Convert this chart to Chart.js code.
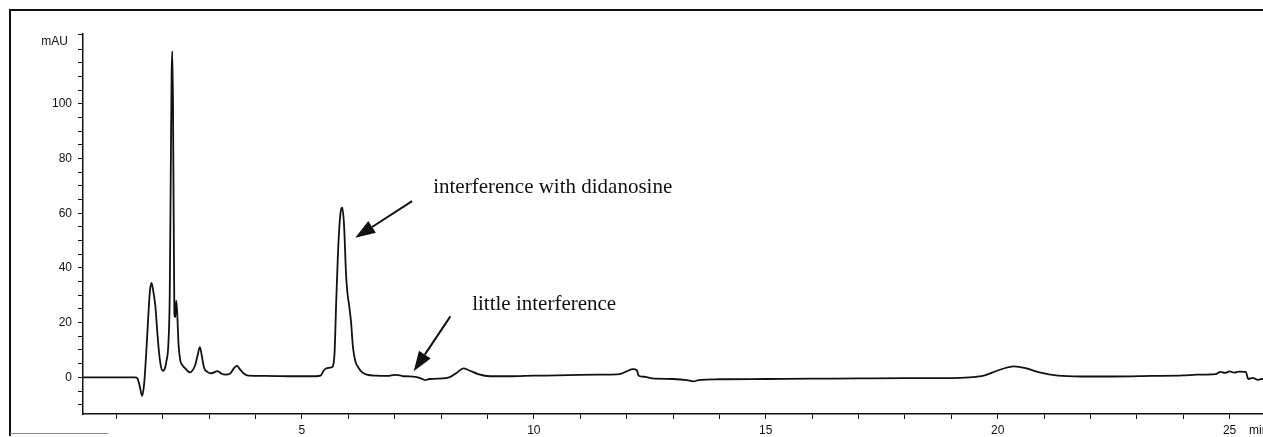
<!DOCTYPE html>
<html>
<head>
<meta charset="utf-8">
<script src="https://cdn.jsdelivr.net/npm/chart.js@4/dist/chart.umd.min.js"></script>
<style>
  html, body { margin: 0; padding: 0; background: #fff; }
  #wrap { position: relative; width: 1263px; height: 437px; overflow: hidden; }
  #frame { position: absolute; left: 9px; top: 9px; width: 1300px; height: 425px;
           border-top: 2px solid #111; border-left: 2px solid #111; }
  #foot { position: absolute; left: 10px; top: 433px; width: 98px; height: 0;
          border-top: 1px solid #888; }
  canvas { position: absolute; left: 0; top: 0; }
</style>
</head>
<body>
<div id="wrap">
  <div id="frame"></div>
  <div id="foot"></div>
  <canvas id="myChart" width="1263" height="437"></canvas>
</div>
<script>
// retention time (min) and absorbance (mAU)
const times = [
  0.28, 1.0, 1.40, 1.45, 1.50, 1.556, 1.60, 1.64, 1.68, 1.72, 1.756, 1.79, 1.84, 1.88, 1.92, 1.96,
  2.00, 2.04, 2.08, 2.12, 2.15, 2.17, 2.19, 2.205, 2.22, 2.235, 2.25, 2.27, 2.29, 2.31, 2.34, 2.38,
  2.42, 2.50, 2.58, 2.64, 2.70, 2.75, 2.80, 2.85, 2.89, 2.96, 3.05, 3.18, 3.27, 3.35, 3.45, 3.54,
  3.60, 3.66, 3.74, 3.85, 4.2, 4.8, 5.30, 5.40, 5.47, 5.54, 5.64, 5.70, 5.74, 5.79, 5.84, 5.87,
  5.91, 5.95, 5.98, 6.02, 6.06, 6.10, 6.15, 6.22, 6.30, 6.40, 6.60, 6.85, 7.0, 7.08, 7.2, 7.45,
  7.6, 7.66, 7.75, 7.9, 8.2, 8.35, 8.48, 8.6, 8.8, 9.06, 9.5, 10, 10.5, 11, 11.5, 11.85,
  12.0, 12.14, 12.22, 12.26, 12.4, 12.55, 13.0, 13.3, 13.44, 13.55, 14, 15, 16, 17, 18, 19.0,
  19.4, 19.7, 20.0, 20.35, 20.6, 20.9, 21.3, 21.8, 22.5, 23.3, 24.0, 24.3, 24.7, 24.8, 24.9, 25.0,
  25.1, 25.2, 25.35, 25.4, 25.5, 25.6, 25.72
];
const mAU = [
  0, 0, 0, -0.3, -3, -6.8, -2, 8, 20, 31, 34.5, 32, 26, 17, 9, 4,
  2.4, 3, 6, 12, 30, 70, 110, 119.2, 100, 60, 23, 22, 28, 24, 12, 6,
  4.5, 3, 1.8, 2.5, 4.5, 8, 11, 7, 3.5, 2, 1.5, 2.3, 1.3, 1, 1.3, 3.5,
  4.2, 3, 1.5, 0.6, 0.5, 0.4, 0.4, 0.6, 2.5, 3.4, 3.6, 8, 28, 50, 61, 62,
  55, 38, 31, 26, 20, 11, 6, 3.5, 1.8, 1, 0.6, 0.5, 0.9, 0.8, 0.4, 0.2,
  -0.6, -1, -0.6, -0.5, 0.2, 1.8, 3.3, 2.6, 1.2, 0.4, 0.4, 0.6, 0.7, 0.9, 1.0, 1.2,
  2.2, 3.0, 2.6, 0.6, 0.2, -0.4, -0.6, -1.0, -1.5, -1.0, -0.7, -0.6, -0.5, -0.4, -0.3, -0.3,
  0, 0.6, 2.5, 4.0, 3.4, 1.8, 0.6, 0.3, 0.3, 0.5, 0.7, 1.0, 1.2, 2, 1.6, 2.2,
  1.7, 2.1, 2.0, -0.6, -0.2, -0.9, -0.5
];

const xTicks = [1,2,3,4,5,6,7,8,9,10,11,12,13,14,15,16,17,18,19,20,21,22,23,24,25];
const xLabels = [5, 10, 15, 20, 25];
const yTicks = [-10,-5,0,5,10,15,20,25,30,35,40,45,50,55,60,65,70,75,80,85,90,95,100,105,110,115,120];
const yLabels = [0, 20, 40, 60, 80, 100];

const notes = [
  { text: 'interference with didanosine', x: 7.83, y: 67.4 },
  { text: 'little interference', x: 8.67, y: 24.75 }
];
const arrows = [
  { from: [7.375, 64.4], to: [6.15, 51] },
  { from: [8.2, 22.3], to: [7.41, 2.2] }
];

const points = times.map((t, i) => ({ x: t, y: mAU[i] }));

const extras = {
  id: 'extras',
  afterDraw(chart) {
    const c = chart.ctx, xs = chart.scales.x, ys = chart.scales.y, area = chart.chartArea;
    c.save();
    c.fillStyle = '#111';
    c.font = '12px "Liberation Sans", Arial, sans-serif';
    c.textBaseline = 'middle';
    c.textAlign = 'right';
    c.fillText('mAU', area.left - 15, area.top + 8);
    c.textAlign = 'left';
    c.fillText('min', 1249, 431);

    c.font = '21px "Liberation Serif", "Times New Roman", serif';
    c.textBaseline = 'alphabetic';
    notes.forEach(n => c.fillText(n.text, xs.getPixelForValue(n.x), ys.getPixelForValue(n.y)));

    c.strokeStyle = '#111';
    c.lineWidth = 2;
    arrows.forEach(a => {
      const x1 = xs.getPixelForValue(a.from[0]), y1 = ys.getPixelForValue(a.from[1]);
      const x2 = xs.getPixelForValue(a.to[0]), y2 = ys.getPixelForValue(a.to[1]);
      const ang = Math.atan2(y2 - y1, x2 - x1);
      const hl = 20, hw = 7;
      const bx = x2 - hl * Math.cos(ang), by = y2 - hl * Math.sin(ang);
      c.beginPath();
      c.moveTo(x1, y1);
      c.lineTo(bx, by);
      c.stroke();
      c.beginPath();
      c.moveTo(x2, y2);
      c.lineTo(bx + hw * Math.sin(ang), by - hw * Math.cos(ang));
      c.lineTo(bx - hw * Math.sin(ang), by + hw * Math.cos(ang));
      c.closePath();
      c.fill();
    });
    c.restore();
  }
};

const ctx = document.getElementById('myChart').getContext('2d');
const myChart = new Chart(ctx, {
  type: 'line',
  data: {
    datasets: [{
      label: 'mAU',
      data: points,
      borderColor: '#111',
      borderWidth: 1.8,
      pointRadius: 0,
      cubicInterpolationMode: 'monotone',
      fill: false
    }]
  },
  options: {
    responsive: false,
    animation: false,
    layout: { padding: { top: 34, right: 0, bottom: 0, left: 0 } },
    plugins: { legend: { display: false }, tooltip: { enabled: false } },
    scales: {
      x: {
        type: 'linear',
        min: 0.28,
        max: 25.72,
        afterBuildTicks: s => { s.ticks = xTicks.map(v => ({ value: v })); },
        afterFit: s => { s.height = 23; },
        ticks: {
          autoSkip: false,
          maxRotation: 0,
          padding: 4,
          color: '#111',
          font: { family: '"Liberation Sans", Arial, sans-serif', size: 12 },
          callback: v => xLabels.includes(v) ? String(v) : ''
        },
        grid: { drawOnChartArea: false, drawTicks: true, tickLength: 5, color: '#111', lineWidth: 1 },
        border: { display: true, color: '#111', width: 1.5 }
      },
      y: {
        min: -13.4,
        max: 125.5,
        afterBuildTicks: s => { s.ticks = yTicks.concat([125.5]).map(v => ({ value: v })); },
        afterFit: s => { s.width = 83; },
        ticks: {
          autoSkip: false,
          padding: 6,
          color: '#111',
          font: { family: '"Liberation Sans", Arial, sans-serif', size: 12 },
          callback: v => yLabels.includes(v) ? String(v) : ''
        },
        grid: { drawOnChartArea: false, drawTicks: true, tickLength: 5, color: '#111', lineWidth: 1 },
        border: { display: true, color: '#111', width: 1.5 }
      }
    }
  },
  plugins: [extras]
});
</script>
</body>
</html>
